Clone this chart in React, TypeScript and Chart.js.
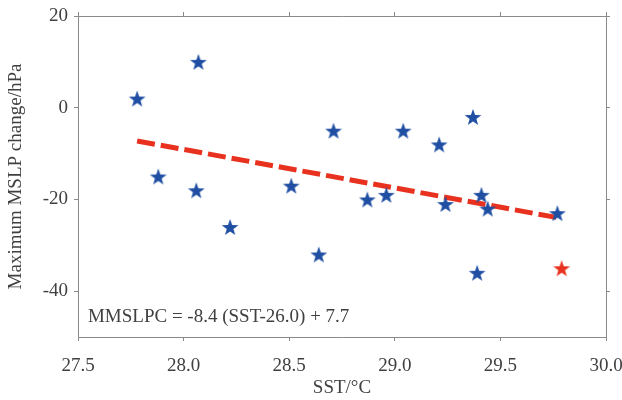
import React, { useEffect, useRef } from "react";
import { Chart, registerables } from "chart.js";

Chart.register(...registerables);

const sstBlue = [27.78, 28.07, 27.88, 28.06, 28.51, 28.22, 28.64, 28.71, 29.04, 29.21, 29.37, 28.87, 28.96, 29.24, 29.41, 29.44, 29.77, 29.39];
const mslpBlue = [2, 10, -15, -18, -17, -26, -32, -5, -5, -8, -2, -20, -19, -21, -19, -22, -23, -36];
const sstRed = [29.79];
const mslpRed = [-35];
const fitX = [27.78, 29.78];
const fitY = [-7.25, -24.05];
const xTicks = [27.5, 28.0, 28.5, 29.0, 29.5, 30.0];
const yTicks = [-40, -20, 0, 20];
const equation = "MMSLPC = -8.4 (SST-26.0) + 7.7";

const FONT = "'Liberation Serif', 'DejaVu Serif', serif";
const TEXT = "#404040";
const AXIS = "#8a8a8a";
const FS = 19;

function makeStar(color: string, outer: number): HTMLCanvasElement {
  const size = Math.ceil(outer * 2 + 2);
  const c = document.createElement("canvas");
  c.width = size;
  c.height = size;
  const ctx = c.getContext("2d")!;
  const cx = size / 2;
  const cy = size / 2 + outer * 0.1;
  const inner = outer * 0.4;
  ctx.beginPath();
  for (let i = 0; i < 10; i++) {
    const r = i % 2 === 0 ? outer : inner;
    const a = -Math.PI / 2 + (i * Math.PI) / 5;
    const px = cx + r * Math.cos(a);
    const py = cy + r * Math.sin(a);
    if (i === 0) ctx.moveTo(px, py);
    else ctx.lineTo(px, py);
  }
  ctx.closePath();
  ctx.fillStyle = color;
  ctx.fill();
  return c;
}

export default function App() {
  const ref = useRef<HTMLCanvasElement | null>(null);

  useEffect(() => {
    if (!ref.current) return;
    const blueStar = makeStar("#1f4ea3", 8.8);
    const redStar = makeStar("#e8321f", 8.8);

    const eqPlugin = {
      id: "eqText",
      afterDatasetsDraw(chart: any) {
        const { ctx, scales } = chart;
        const x = scales.x.getPixelForValue(27.547);
        const y = scales.y.getPixelForValue(-45.7);
        ctx.save();
        ctx.font = `${FS}px ${FONT}`;
        ctx.fillStyle = TEXT;
        ctx.textAlign = "left";
        ctx.textBaseline = "middle";
        ctx.fillText(equation, x, y);
        ctx.restore();
      },
    };

    const gridCommon = {
      drawOnChartArea: false,
      drawTicks: true,
      tickLength: 4,
      color: AXIS,
      lineWidth: 1,
    };
    const borderCommon = { display: true, color: AXIS, width: 1 };
    const noPad = (s: any) => {
      s.paddingLeft = 0;
      s.paddingRight = 0;
      s.paddingTop = 0;
      s.paddingBottom = 0;
    };

    const chart = new Chart(ref.current, {
      type: "scatter",
      data: {
        datasets: [
          {
            type: "line",
            data: fitX.map((x, i) => ({ x, y: fitY[i] })),
            borderColor: "#e8321f",
            borderWidth: 5,
            borderDash: [18, 6],
            pointRadius: 0,
            fill: false,
            order: 2,
          } as any,
          {
            data: sstBlue.map((x, i) => ({ x, y: mslpBlue[i] })),
            pointStyle: blueStar as any,
            order: 1,
          },
          {
            data: sstRed.map((x, i) => ({ x, y: mslpRed[i] })),
            pointStyle: redStar as any,
            order: 1,
          },
        ],
      },
      options: {
        animation: false,
        responsive: false,
        maintainAspectRatio: false,
        layout: { padding: 0 },
        plugins: { legend: { display: false }, tooltip: { enabled: false } },
        scales: {
          x: {
            type: "linear",
            position: "bottom",
            min: 27.5,
            max: 30,
            afterBuildTicks: (s: any) => {
              s.ticks = xTicks.map((v) => ({ value: v }));
            },
            afterFit: (s: any) => {
              s.height = 63;
              noPad(s);
            },
            ticks: {
              padding: 14,
              color: TEXT,
              font: { family: FONT, size: FS },
              maxRotation: 0,
              callback: (v: any) => Number(v).toFixed(1),
            },
            grid: gridCommon,
            border: borderCommon,
            title: {
              display: true,
              text: "SST/°C",
              color: TEXT,
              font: { family: FONT, size: FS },
              padding: { top: 0, bottom: 1 },
            },
          },
          x2: {
            type: "linear",
            position: "top",
            min: 27.5,
            max: 30,
            afterBuildTicks: (s: any) => {
              s.ticks = xTicks.map((v) => ({ value: v }));
            },
            afterFit: (s: any) => {
              s.height = 16;
              noPad(s);
            },
            ticks: { display: false },
            grid: gridCommon,
            border: borderCommon,
          },
          y: {
            type: "linear",
            position: "left",
            min: -50,
            max: 20,
            afterBuildTicks: (s: any) => {
              s.ticks = yTicks.map((v) => ({ value: v }));
            },
            afterFit: (s: any) => {
              s.width = 78;
              noPad(s);
            },
            ticks: {
              padding: 6,
              color: TEXT,
              font: { family: FONT, size: FS },
            },
            grid: gridCommon,
            border: borderCommon,
            title: {
              display: true,
              text: "Maximum MSLP change/hPa",
              color: TEXT,
              font: { family: FONT, size: FS },
              padding: { top: 5, bottom: 0 },
            },
          },
          y2: {
            type: "linear",
            position: "right",
            min: -50,
            max: 20,
            afterBuildTicks: (s: any) => {
              s.ticks = yTicks.map((v) => ({ value: v }));
            },
            afterFit: (s: any) => {
              s.width = 16;
              noPad(s);
            },
            ticks: { display: false },
            grid: gridCommon,
            border: borderCommon,
          },
        },
      } as any,
      plugins: [eqPlugin],
    });
    return () => chart.destroy();
  }, []);

  return (
    <div style={{ position: "fixed", left: 0, top: 0, width: 622, height: 400, background: "#fff" }}>
      <canvas ref={ref} width={622} height={400} style={{ width: 622, height: 400 }} />
    </div>
  );
}
